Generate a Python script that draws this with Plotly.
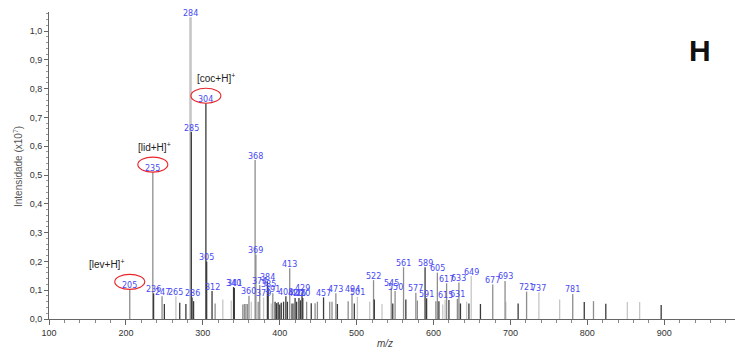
import plotly.graph_objects as go

# Centroided peak list: m/z, relative intensity (x10^7) and drawing shade
mz = [205, 235, 236, 247, 250, 265, 270, 278, 284, 285, 286, 288, 304, 305, 312,
      316, 326, 337, 340, 341, 352, 354, 356, 358, 360, 363, 368, 369, 372, 374,
      379, 384, 385, 389, 391, 394, 396, 398, 400, 402, 405, 408, 410, 413, 416,
      418, 420, 422, 425, 427, 429, 430, 435, 441, 446, 449, 457, 465, 468, 473,
      475, 489, 494, 497, 501, 517, 522, 523, 533, 545, 547, 550, 561, 564, 577,
      579, 589, 591, 603, 605, 607, 612, 615, 617, 620, 631, 633, 635, 643, 646,
      649, 661, 677, 693, 694, 710, 721, 737, 764, 781, 796, 808, 824, 852, 868,
      896]
intensity = [0.103, 0.510, 0.089, 0.079, 0.052, 0.079, 0.056, 0.052, 1.048, 0.649,
             0.075, 0.062, 0.749, 0.200, 0.097, 0.054, 0.068, 0.064, 0.111, 0.108,
             0.050, 0.052, 0.052, 0.052, 0.081, 0.060, 0.552, 0.223, 0.060, 0.118,
             0.075, 0.130, 0.107, 0.054, 0.089, 0.060, 0.055, 0.058, 0.050, 0.056,
             0.060, 0.079, 0.060, 0.176, 0.054, 0.054, 0.073, 0.060, 0.073, 0.065,
             0.092, 0.073, 0.060, 0.055, 0.055, 0.060, 0.075, 0.060, 0.060, 0.089,
             0.052, 0.062, 0.089, 0.054, 0.077, 0.060, 0.135, 0.068, 0.052, 0.109,
             0.054, 0.097, 0.180, 0.068, 0.091, 0.064, 0.180, 0.072, 0.062, 0.161,
             0.062, 0.050, 0.067, 0.124, 0.066, 0.070, 0.127, 0.054, 0.060, 0.054,
             0.149, 0.052, 0.120, 0.132, 0.060, 0.054, 0.095, 0.093, 0.068, 0.087,
             0.059, 0.062, 0.053, 0.059, 0.059, 0.049]
shade = ["mid", "mid", "dark", "mid", "dark", "light", "dark", "dark", "light", "dark",
         "dark", "dark", "dark", "dark", "dark", "mid", "light", "light", "dark", "dark",
         "mid", "mid", "mid", "mid", "mid", "light", "mid", "mid", "mid", "mid",
         "light", "dark", "dark", "light", "mid", "dark", "dark", "dark", "dark", "dark",
         "dark", "dark", "dark", "mid", "dark", "mid", "dark", "dark", "dark", "dark",
         "dark", "dark", "mid", "dark", "mid", "mid", "dark", "mid", "mid", "mid",
         "dark", "mid", "mid", "dark", "light", "light", "mid", "dark", "light", "mid",
         "dark", "mid", "mid", "dark", "mid", "mid", "dark", "dark", "mid", "mid",
         "dark", "light", "light", "mid", "dark", "mid", "mid", "dark", "light", "dark",
         "light", "dark", "mid", "mid", "light", "dark", "mid", "light", "light", "mid",
         "dark", "mid", "dark", "light", "light", "dark"]

# Peaks carrying an m/z label
labeled_mz = [205, 235, 236, 247, 265, 284, 285, 286, 304, 305, 312, 340, 341, 360,
              368, 369, 374, 379, 384, 385, 391, 408, 413, 420, 425, 429, 430, 457,
              473, 494, 501, 522, 545, 550, 561, 577, 589, 591, 605, 615, 617, 631,
              633, 649, 677, 693, 721, 737, 781]

# Identified protonated molecules
ion_mz = [205, 235, 304]
ion_names = ["[lev+H]<sup>+</sup>", "[lid+H]<sup>+</sup>", "[coc+H]<sup>+</sup>"]
ion_xshift = [-23, 2, 10]

x_ticks = [100, 200, 300, 400, 500, 600, 700, 800, 900]

shade_color = {"light": "#c6c6c6", "mid": "#8e8e8e", "dark": "#3a3a3a"}
height_of = dict(zip(mz, intensity))

fig = go.Figure()

# Stick spectrum: one trace per shade, each stick from 0 to its intensity
for s in ["light", "mid", "dark"]:
    xs, ys = [], []
    for m, h, c in zip(mz, intensity, shade):
        if c == s and m != 284:
            xs += [m, m, None]
            ys += [0, h, None]
    fig.add_trace(go.Scatter(x=xs, y=ys, mode="lines",
                             line=dict(color=shade_color[s], width=1.3),
                             hoverinfo="skip", showlegend=False))

# Base peak drawn slightly heavier
fig.add_trace(go.Scatter(x=[284, 284], y=[0, height_of[284]], mode="lines",
                         line=dict(color=shade_color["light"], width=2.6),
                         hoverinfo="skip", showlegend=False))
# keep m/z 285 on top of the base peak
fig.add_trace(go.Scatter(x=[285, 285], y=[0, height_of[285]], mode="lines",
                         line=dict(color=shade_color["dark"], width=1.3),
                         hoverinfo="skip", showlegend=False))

annotations = []
for m in labeled_mz:
    annotations.append(dict(x=m, y=height_of[m], xref="x", yref="y",
                            text=str(m), showarrow=False, yanchor="middle",
                            yshift=4,
                            font=dict(family="DejaVu Sans", size=8, color="#4848f2")))

shapes = []
for m, name, dx in zip(ion_mz, ion_names, ion_xshift):
    annotations.append(dict(x=m, y=height_of[m], xref="x", yref="y", text=name,
                            showarrow=False, xshift=dx, yshift=25, yanchor="middle",
                            font=dict(family="Liberation Sans", size=10, color="#222222")))
    shapes.append(dict(type="circle", xref="x", yref="y",
                       xsizemode="pixel", ysizemode="pixel",
                       xanchor=m, yanchor=height_of[m],
                       x0=-15, x1=15, y0=0, y1=15,
                       line=dict(color="#e8262b", width=1.1)))

# Axis titles and panel letter
annotations.append(dict(xref="paper", yref="paper", x=0, y=0.495, xshift=-31,
                        text="Intensidade (x10<sup>7</sup>)", textangle=-90,
                        showarrow=False, xanchor="center", yanchor="middle",
                        font=dict(family="Liberation Sans", size=10, color="#555555")))
annotations.append(dict(xref="paper", yref="paper", x=0.49, y=0, yshift=-24,
                        text="<i>m/z</i>", showarrow=False,
                        xanchor="center", yanchor="middle",
                        font=dict(family="Liberation Sans", size=10, color="#444444")))
annotations.append(dict(xref="paper", yref="paper", x=0.949, y=0.876,
                        text="<b>H</b>", showarrow=False,
                        xanchor="center", yanchor="middle",
                        font=dict(family="Liberation Sans", size=30, color="#111111")))

fig.update_layout(
    width=735, height=353,
    margin=dict(l=49, r=0, t=12, b=34),
    plot_bgcolor="white", paper_bgcolor="white",
    separators=",.",
    annotations=annotations, shapes=shapes,
    showlegend=False,
)
fig.update_xaxes(range=[100, 992], tickvals=x_ticks, showgrid=False, zeroline=False,
                 showline=True, linecolor="#666666", linewidth=1,
                 ticks="outside", ticklen=5, tickcolor="#666666",
                 minor=dict(dtick=20, tick0=100, ticks="outside", ticklen=3,
                            tickcolor="#888888"),
                 tickfont=dict(family="Liberation Sans", size=9, color="#333333"))
fig.update_yaxes(range=[0, 1.066], dtick=0.1, tickformat=".1f", showgrid=False,
                 zeroline=False, showline=True, linecolor="#666666", linewidth=1,
                 ticks="outside", ticklen=4, tickcolor="#666666",
                 minor=dict(dtick=0.02, ticks="outside", ticklen=2,
                            tickcolor="#999999"),
                 tickfont=dict(family="Liberation Sans", size=9, color="#333333"))

fig.write_html("out.html")
